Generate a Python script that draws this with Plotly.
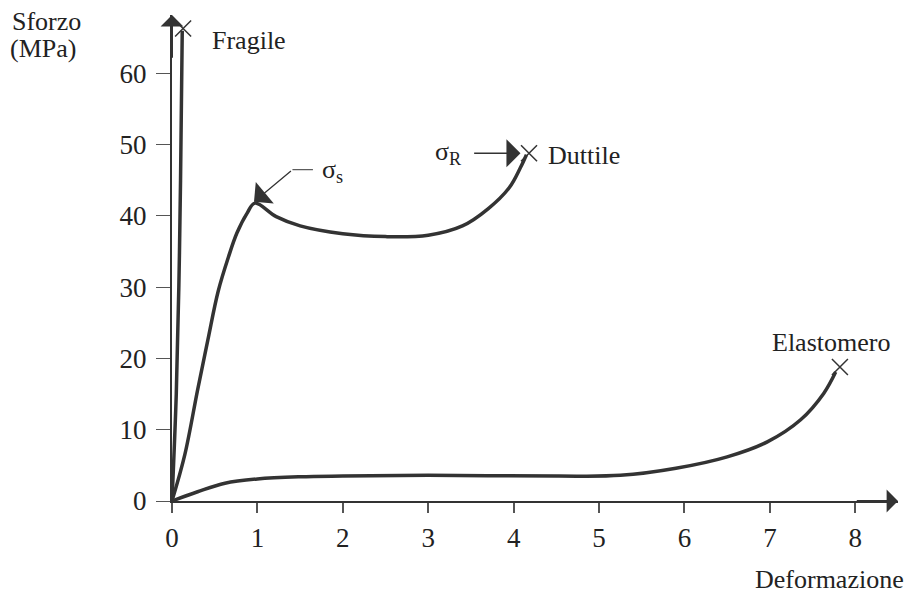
import plotly.graph_objects as go

# ---- data ----
fragile_x = [0.0, 0.05, 0.08, 0.10, 0.12]
fragile_y = [0.0, 15.0, 30.0, 45.0, 66.0]
fragile_end = (0.13, 66.3)

duttile_x = [0.0, 0.15, 0.30, 0.42, 0.54, 0.66, 0.76, 0.88, 0.97, 1.22, 1.5, 2.0, 2.5, 3.0, 3.4, 3.7, 3.95, 4.08, 4.15]
duttile_y = [0.0, 6.5, 15.6, 22.6, 29.4, 34.2, 37.6, 40.4, 41.8, 39.9, 38.6, 37.5, 37.1, 37.3, 38.6, 41.0, 44.0, 46.8, 48.6]
duttile_end = (4.18, 48.8)

elast_x = [0.0, 0.3, 0.62, 1.0, 1.5, 2.0, 3.0, 4.5, 5.25, 5.9, 6.5, 6.97, 7.36, 7.63, 7.77]
elast_y = [0.0, 1.3, 2.5, 3.1, 3.4, 3.5, 3.6, 3.5, 3.6, 4.6, 6.2, 8.3, 11.4, 15.1, 18.1]
elast_end = (7.82, 18.8)

x_ticks = [0, 1, 2, 3, 4, 5, 6, 7, 8]
y_ticks = [0, 10, 20, 30, 40, 50, 60]

LINE = "#333333"
TXT = "#222222"
FONT = "Liberation Serif"

fig = go.Figure()
for xs, ys in [(fragile_x, fragile_y), (duttile_x, duttile_y), (elast_x, elast_y)]:
    fig.add_trace(go.Scatter(x=xs, y=ys, mode="lines",
                             line=dict(color=LINE, width=3.5, shape="spline", smoothing=1.0),
                             hoverinfo="skip", showlegend=False))
ends = [fragile_end, duttile_end, elast_end]
fig.add_trace(go.Scatter(x=[e[0] for e in ends], y=[e[1] for e in ends], mode="markers",
                         marker=dict(symbol="x-thin-open", size=16, color=LINE,
                                     line=dict(color=LINE, width=1.5)),
                         cliponaxis=False, hoverinfo="skip", showlegend=False))

# sigma_s leader (horizontal part)
fig.add_trace(go.Scatter(x=[1.65, 1.41], y=[46.5, 46.5], mode="lines",
                         line=dict(color="#555555", width=1.2),
                         hoverinfo="skip", showlegend=False))

annotations = [
    # axis arrowheads
    dict(x=8.5, y=0, ax=8.0, ay=0, axref="x", ayref="y", xref="x", yref="y",
         showarrow=True, arrowhead=1, arrowsize=1.9, arrowwidth=2, arrowcolor=LINE, text=""),
    dict(x=0, y=68.2, ax=0, ay=62, axref="x", ayref="y", xref="x", yref="y",
         showarrow=True, arrowhead=1, arrowsize=1.9, arrowwidth=2, arrowcolor=LINE, text=""),
    # sigma_s arrow
    dict(x=0.96, y=42.0, ax=1.41, ay=46.5, axref="x", ayref="y", xref="x", yref="y",
         showarrow=True, arrowhead=1, arrowsize=3.6, arrowwidth=1.3, arrowcolor=LINE, text=""),
    # sigma_R arrow
    dict(x=4.08, y=48.8, ax=3.52, ay=48.8, axref="x", ayref="y", xref="x", yref="y",
         showarrow=True, arrowhead=1, arrowsize=3.6, arrowwidth=1.3, arrowcolor=LINE, text=""),
    # texts
    dict(x=0.44, y=64.6, xref="x", yref="y", text="Fragile", showarrow=False,
         xanchor="left", yanchor="middle", font=dict(size=26)),
    dict(x=4.38, y=48.5, xref="x", yref="y", text="Duttile", showarrow=False,
         xanchor="left", yanchor="middle", font=dict(size=26)),
    dict(x=7.71, y=22.2, xref="x", yref="y", text="Elastomero", showarrow=False,
         xanchor="center", yanchor="middle", font=dict(size=26)),
    dict(x=1.73, y=46.3, xref="x", yref="y", text="σ<sub>s</sub>", showarrow=False,
         xanchor="left", yanchor="middle", font=dict(size=26)),
    dict(x=3.05, y=48.8, xref="x", yref="y", text="σ<sub>R</sub>", showarrow=False,
         xanchor="left", yanchor="middle", font=dict(size=26)),
    dict(x=-0.2231, y=0.9856, xref="paper", yref="paper", text="Sforzo", showarrow=False,
         xanchor="left", yanchor="middle", font=dict(size=26)),
    dict(x=-0.2259, y=0.932, xref="paper", yref="paper", text="(MPa)", showarrow=False,
         xanchor="left", yanchor="middle", font=dict(size=26)),
    dict(x=1.0096, y=-0.1934, xref="paper", yref="paper", text="Deformazione", showarrow=False,
         xanchor="right", yanchor="bottom", borderpad=0, font=dict(size=26)),
]

fig.update_layout(
    width=912, height=595,
    margin=dict(l=172, r=14, t=15, b=94),
    paper_bgcolor="white", plot_bgcolor="white",
    font=dict(family=FONT, color=TXT, size=26),
    showlegend=False,
    annotations=annotations,
    xaxis=dict(range=[0, 8.5], tickvals=x_ticks, ticktext=[str(v) for v in x_ticks],
               showgrid=False, zeroline=False, showline=True, linecolor=LINE, linewidth=2,
               ticks="outside", ticklen=10, tickwidth=1.5, tickcolor="#555555",
               ticklabelstandoff=2, tickfont=dict(size=27, family=FONT, color=TXT)),
    yaxis=dict(range=[0, 68.2], tickvals=y_ticks, ticktext=[str(v) for v in y_ticks],
               showgrid=False, zeroline=False, showline=True, linecolor=LINE, linewidth=2,
               ticks="outside", ticklen=14, tickwidth=1.2, tickcolor="#555555",
               ticklabelstandoff=4, tickfont=dict(size=27, family=FONT, color=TXT)),
)

fig.write_html("out.html")
